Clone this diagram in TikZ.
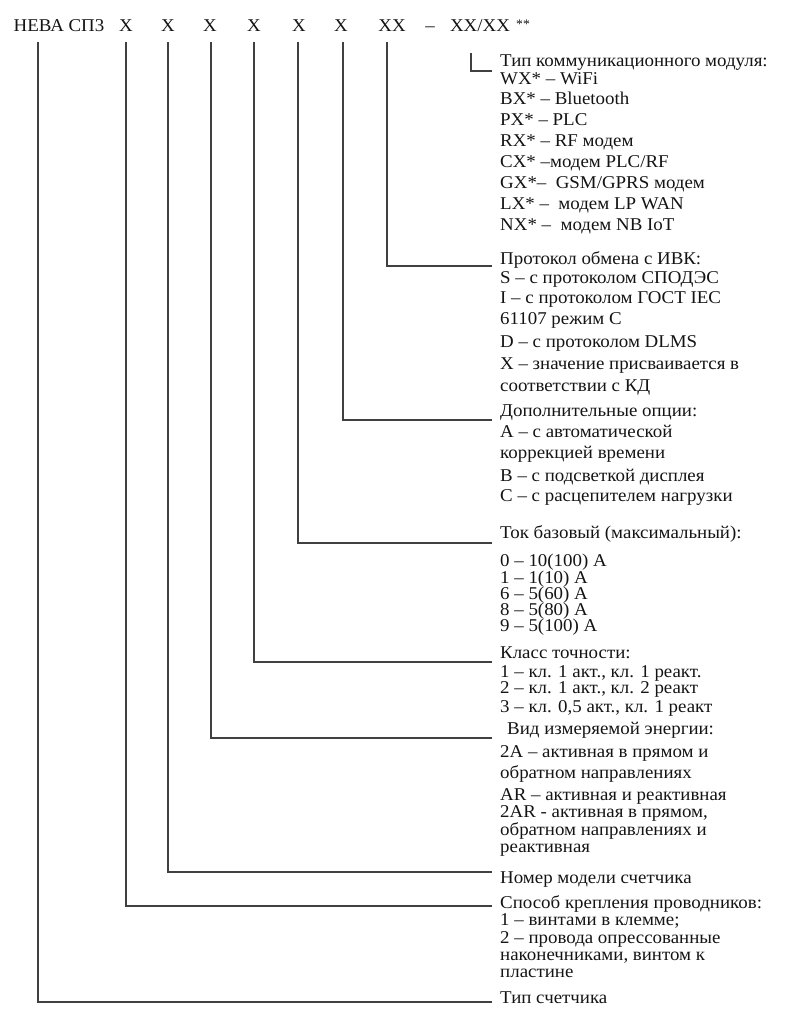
\documentclass[tikz,border=0pt]{standalone}
\usepackage{fontspec}
\setmainfont{Liberation Serif}[FakeStretch=1.05]

\begin{document}
\begin{tikzpicture}[x=1pt,y=-1pt,
    hdr/.style={anchor=base, inner xsep=0pt, inner ysep=10pt, text=black!92,
                font=\fontsize{18}{20}\selectfont},
    lbl/.style={anchor=base west, inner sep=0pt, text=black!92,
                font=\fontsize{18}{20}\selectfont},
    lead/.style={draw=black!75, line width=1.1pt}]
    \useasboundingbox (0,0) rectangle (793,1024);

    % header of the code
    \node[hdr] (hType) at (59,32) {НЕВА СП3};
    \foreach \x [count=\i] in {126,168,210,254,299,341} {
        \node[hdr] (hX\i) at (\x,32) {X};
    }
    \node[hdr] (hXX) at (392,32) {XX};
    \node[hdr] (hDash) at (430,32) {–};
    \node[hdr] (hComm) at (480,32) {XX/XX};
    \node[hdr, font=\fontsize{13}{15}\selectfont] (hStar) at (523,29) {**};

    % ends of the leaders
    \foreach \ey [count=\i] in {71,266,420,543,662,738,872,906,1002} {
        \coordinate (e\i) at (492,\ey);
    }

    \draw[lead] ([xshift=-9pt,yshift=-11pt]hComm.south) |- (e1);
    \draw[lead] ([xshift=-5pt]hXX.south) |- (e2);
    \draw[lead] ([xshift=2pt]hX6.south) |- (e3);
    \draw[lead] ([xshift=-1pt]hX5.south) |- (e4);
    \draw[lead] (hX4.south) |- (e5);
    \draw[lead] ([xshift=1pt]hX3.south) |- (e6);
    \draw[lead] (hX2.south) |- (e7);
    \draw[lead] (hX1.south) |- (e8);
    \draw[lead] ([xshift=-21pt]hType.south) |- (e9);

    % explanations
    \foreach \y/\t [count=\i] in {
        67/{Тип коммуникационного модуля:},
        85/{WX* – WiFi},
        105/{BX* – Bluetooth},
        126/{PX* – PLC},
        147/{RX* – RF модем},
        168/{CX* –модем PLC/RF},
        189/{GX*–\ \ GSM/GPRS модем},
        210/{LX* –\ \ модем LP WAN},
        231/{NX* –\ \ модем NB IoT},
        264/{Протокол обмена с ИВК:},
        283/{S – с протоколом СПОДЭС},
        303/{I – с протоколом ГОСТ IEC},
        324/{61107 режим С},
        347/{D – с протоколом DLMS},
        369/{X – значение присваивается в},
        391/{соответствии с КД},
        416/{Дополнительные опции:},
        437/{A – с автоматической},
        458/{коррекцией времени},
        481/{B – с подсветкой дисплея},
        501/{C – с расцепителем нагрузки},
        538/{Ток базовый (максимальный):},
        566/{0 – 10(100) А},
        583/{1 – 1(10) А},
        599/{6 – 5(60) А},
        615/{8 – 5(80) А},
        631/{9 – 5(100) А},
        658/{Класс точности:},
        677/{1 – кл. 1 акт., кл. 1 реакт.},
        693/{2 – кл. 1 акт., кл. 2 реакт},
        712/{3 – кл. 0,5 акт., кл. 1 реакт},
        734/{\hspace{7pt}Вид измеряемой энергии:},
        757/{2А – активная в прямом и},
        778/{обратном направлениях},
        800/{AR – активная и реактивная},
        817/{2AR - активная в прямом,},
        835/{обратном направлениях и},
        852/{реактивная},
        883/{Номер модели счетчика},
        908/{Способ крепления проводников:},
        925/{1 – винтами в клемме;},
        943/{2 – провода опрессованные},
        960/{наконечниками, винтом к},
        977/{пластине},
        1003/{Тип счетчика}} {
        \node[lbl] (l\i) at (500,\y) {\t};
    }
\end{tikzpicture}
\end{document}
